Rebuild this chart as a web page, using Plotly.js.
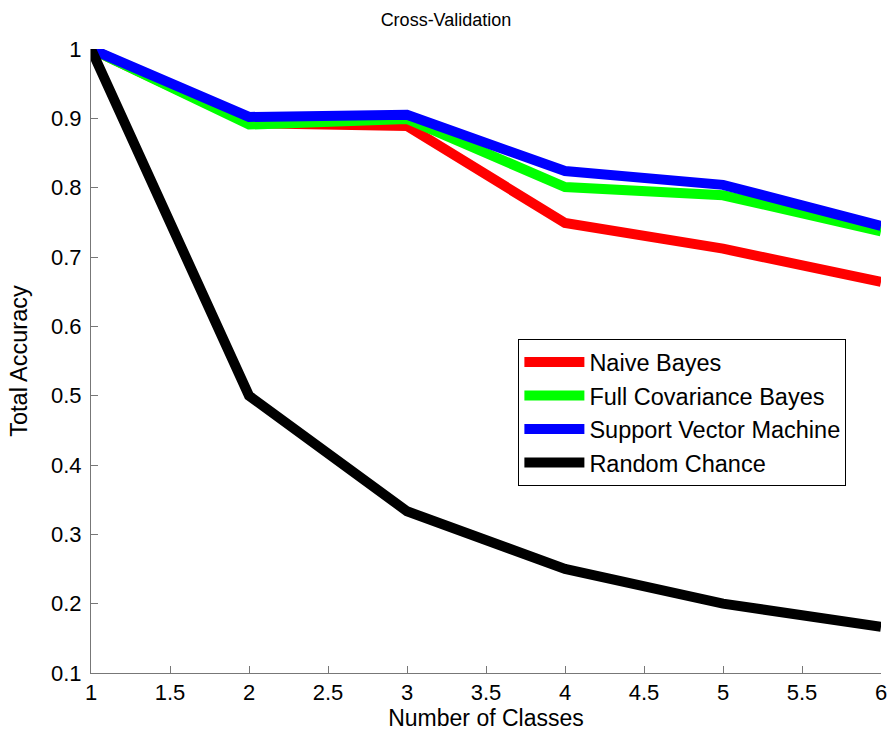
<!DOCTYPE html>
<html>
<head>
<meta charset="utf-8">
<script src="https://cdn.plot.ly/plotly-3.0.1.min.js"></script>
<style>html,body{margin:0;padding:0;background:#fff;}#chart{width:892px;height:736px;}</style>
</head>
<body>
<div id="chart"></div>
<script>
var numClasses = [1, 2, 3, 4, 5, 6];
var naiveBayes = [1.0, 0.893, 0.889, 0.749, 0.712, 0.664];
var fullCovBayes = [1.0, 0.891, 0.899, 0.801, 0.789, 0.737];
var svm = [1.0, 0.902, 0.905, 0.824, 0.804, 0.745];
var randomChance = [1.0, 0.5, 0.3333, 0.25, 0.2, 0.1667];
var seriesNames = ["Naive Bayes", "Full Covariance Bayes", "Support Vector Machine", "Random Chance"];
var xTicks = [1, 1.5, 2, 2.5, 3, 3.5, 4, 4.5, 5, 5.5, 6];
var yTicks = [0.1, 0.2, 0.3, 0.4, 0.5, 0.6, 0.7, 0.8, 0.9, 1];

var colors = ["#ff0000", "#00ff00", "#0000ff", "#000000"];
var ys = [naiveBayes, fullCovBayes, svm, randomChance];
var traces = ys.map(function (y, i) {
  return {
    x: numClasses, y: y, type: "scatter", mode: "lines",
    name: seriesNames[i], legendgroup: "g" + i,
    line: {color: colors[i], width: 10}
  };
});

var fam = "Liberation Sans, Arial, sans-serif";
var layout = {
  width: 892, height: 736,
  margin: {l: 91, r: 11, t: 49, b: 63},
  paper_bgcolor: "#fff", plot_bgcolor: "#fff",
  font: {family: fam, size: 22, color: "#000"},
  title: {text: "Cross-Validation", font: {family: fam, size: 18, color: "#000"}, x: 0.5, xanchor: "center", y: 0.973, yanchor: "middle"},
  xaxis: {
    range: [1, 6], tickvals: xTicks, ticktext: xTicks.map(String),
    ticks: "inside", ticklen: 7, tickcolor: "#777", showline: true, linecolor: "#777", linewidth: 1,
    showgrid: false, zeroline: false, tickfont: {family: fam, size: 22, color: "#000"},
    title: {text: "Number of Classes", font: {family: fam, size: 23, color: "#000"}, standoff: 5}
  },
  yaxis: {
    range: [0.1, 1], tickvals: yTicks, ticktext: yTicks.map(String),
    ticks: "inside", ticklen: 7, tickcolor: "#777", showline: true, linecolor: "#777", linewidth: 1,
    showgrid: false, zeroline: false, tickfont: {family: fam, size: 22, color: "#000"},
    ticklabelstandoff: 4,
    title: {text: "Total Accuracy", font: {family: fam, size: 23.5, color: "#000"}, standoff: 16}
  },
  legend: {
    x: 0.541, y: 0.535, xanchor: "left", yanchor: "top",
    bgcolor: "#fff", bordercolor: "#000", borderwidth: 1,
    font: {family: fam, size: 23.5, color: "#000"},
    tracegroupgap: 0, itemwidth: 60
  },
  showlegend: true
};

Plotly.newPlot("chart", traces, layout, {displayModeBar: false, staticPlot: true});
</script>
</body>
</html>
